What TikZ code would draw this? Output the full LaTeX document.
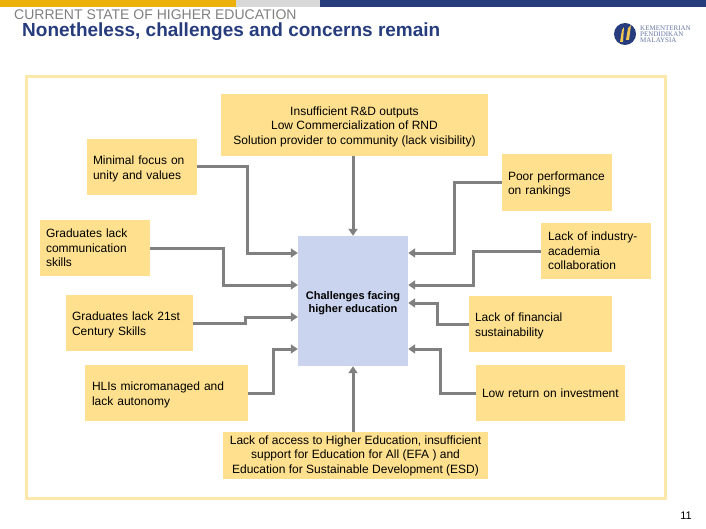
\documentclass[tikz,border=0pt]{standalone}
\usepackage{fontspec}
\setmainfont{Liberation Sans}
\newfontfamily\logofont{Liberation Serif}
\usetikzlibrary{arrows.meta,positioning}
\definecolor{boxyellow}{RGB}{254,224,143}
\definecolor{frameyellow}{RGB}{252,232,170}
\definecolor{centerblue}{RGB}{203,212,238}
\definecolor{linkgray}{RGB}{128,128,128}
\definecolor{navy}{RGB}{38,60,125}
\definecolor{bargold}{RGB}{236,176,10}
\definecolor{bargray}{RGB}{216,216,216}
\newcommand{\lowerline}{\rule{0pt}{12pt}}
\tikzset{
  causebox/.style={fill=boxyellow,inner xsep=6pt,inner ysep=0pt,font=\fontsize{12}{14.5}\selectfont,align=left},
  linkarrow/.style={draw=linkgray,line width=3pt,-{Triangle[length=7pt,width=9pt]}},
}

\begin{document}
\begin{tikzpicture}[x=1pt,y=-1pt]
    \useasboundingbox (0,0) rectangle (706,529);
    % Top bar
    \fill[bargold] (0,0) rectangle (236,7);
    \fill[bargray] (236,0) rectangle (320,7);
    \fill[navy] (320,0) rectangle (706,7);

    % Titles
    \node[anchor=base west,inner sep=0pt,text=gray,font=\fontsize{14}{16}\selectfont] (subtitle) at (14,19.5) {CURRENT STATE OF HIGHER EDUCATION};
    \node[anchor=base west,inner sep=0pt,text=navy,font=\fontsize{19}{21}\selectfont\bfseries] (title) at (22,37) {Nonetheless, challenges and concerns remain};

    % Logo
    \fill[navy] (625,34) circle (11);
    \fill[bargold!70!white] (620,42) -- (622,30) -- (624,27) -- (623,42) -- cycle;
    \fill[bargold!70!white] (626,40) -- (628,28) -- (631,25) -- (629,40) -- cycle;
    \node[anchor=west,inner sep=0pt,text=navy!70!white,align=left,font=\logofont\fontsize{7}{6}\selectfont] (logotext) at (640,34) {KEMENTERIAN\\PENDIDIKAN\\MALAYSIA};

    % Frame
    \draw[frameyellow,line width=3pt] (26.5,76.5) rectangle (665,498.5);

    % Centre
    \node[fill=centerblue,minimum width=110pt,minimum height=130pt,inner sep=0pt,align=center,font=\fontsize{11}{13}\selectfont\bfseries] (center) at (353,301) {\lowerline Challenges facing\\higher education};

    % Causes, top and bottom
    \node[causebox,align=center,minimum width=267pt,minimum height=62pt] (rd) at (354.5,125) {\lowerline Insufficient R\&D outputs\\Low Commercialization of RND\\Solution provider to community (lack visibility)};
    \node[causebox,align=center,minimum width=265pt,minimum height=47pt] (access) at (355.5,455.5) {Lack of access to Higher Education, insufficient\\support for Education for All (EFA ) and\\Education for Sustainable Development (ESD)};

    % Causes, left
    \node[causebox,text width=98pt,minimum height=56pt] (unity) at (142,167) {\lowerline Minimal focus on\\unity and values};
    \node[causebox,text width=98pt,minimum height=56pt] (communication) at (95,248) {Graduates lack\\communication\\skills};
    \node[causebox,text width=115pt,minimum height=56pt] (skills) at (129.5,323) {\lowerline Graduates lack 21st\\Century Skills};
    \node[causebox,text width=149pt,minimum height=56pt,inner xsep=7pt] (autonomy) at (166.5,393) {\lowerline HLIs micromanaged and\\lack autonomy};

    % Causes, right
    \node[causebox,text width=98pt,minimum height=57pt] (rankings) at (557,182.5) {\lowerline Poor performance\\on rankings};
    \node[causebox,text width=96pt,inner xsep=7pt,minimum height=56pt] (industry) at (596,251) {Lack of industry-\\academia\\collaboration};
    \node[causebox,text width=131pt,minimum height=56pt] (financial) at (540.5,324) {\lowerline Lack of financial\\sustainability};
    \node[causebox,text width=137pt,minimum height=56pt] (investment) at (550.5,393) {Low return on investment};

    % Connectors
    \draw[linkarrow] (rd.south -| center.north) -- (center.north);
    \draw[linkarrow] (access.north -| center.south) -- (center.south);
    \draw[linkarrow] (unity.east) -- ++(50,0) |- (center.west |- 0,253);
    \draw[linkarrow] (communication.east) -- ++(73,0) |- (center.west |- 0,285);
    \draw[linkarrow] (skills.east) -- ++(52,0) |- (center.west |- 0,317);
    \draw[linkarrow] (autonomy.east) -- ++(25,0) |- (center.west |- 0,349);
    \draw[linkarrow] (rankings.west) -- ++(-47,0) |- (center.east |- 0,253);
    \draw[linkarrow] (industry.west) -- ++(-67,0) |- (center.east |- 0,285);
    \draw[linkarrow] (financial.west) -- ++(-31,0) |- (center.east |- 0,303);
    \draw[linkarrow] (investment.west) -- ++(-35,0) |- (center.east |- 0,349);

    % Page number
    \node[anchor=base,inner sep=0pt,font=\fontsize{11}{12}\selectfont] (pagenumber) at (686,519) {11};
\end{tikzpicture}
\end{document}
